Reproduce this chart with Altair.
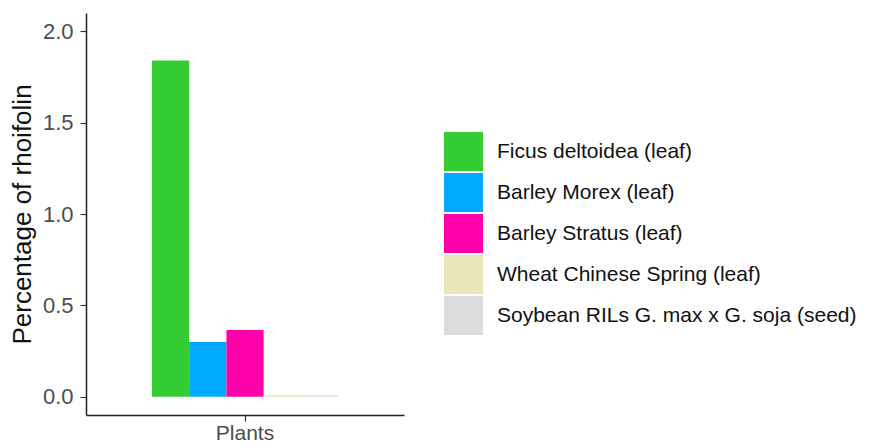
import altair as alt
import pandas as pd

categories = ["Plants"] * 5
series = [
    "Ficus deltoidea (leaf)",
    "Barley Morex (leaf)",
    "Barley Stratus (leaf)",
    "Wheat Chinese Spring (leaf)",
    "Soybean RILs G. max x G. soja (seed)",
]
values = [1.84, 0.30, 0.365, 0.008, 0.008]
colors = ["#33CC33", "#00AAFF", "#FF00AA", "#E8E6B8", "#DCDCDC"]
y_ticks = [0.0, 0.5, 1.0, 1.5, 2.0]

df = pd.DataFrame({"cat": categories, "series": series, "value": values})

FONT = "Liberation Sans"

chart = alt.Chart(df).mark_bar(strokeWidth=0).encode(
    x=alt.X(
        "cat:N",
        title=None,
        scale=alt.Scale(paddingInner=0, paddingOuter=0.355),
        axis=alt.Axis(
            labelAngle=0, labelFontSize=21, labelColor="#4D4D4D", labelFont=FONT,
            labelBaseline="alphabetic",
            domainColor="#222222", domainWidth=1.5, tickColor="#333333",
            tickSize=6, tickWidth=1.2, labelPadding=18, grid=False,
        ),
    ),
    xOffset=alt.XOffset("series:N", sort=series, scale=alt.Scale(paddingInner=0, paddingOuter=0)),
    y=alt.Y(
        "value:Q",
        title="Percentage of rhoifolin",
        scale=alt.Scale(domain=[-0.1, 2.1], zero=False, nice=False),
        axis=alt.Axis(
            values=y_ticks, format=".1f", labelFontSize=22, labelColor="#4D4D4D",
            labelFont=FONT, titleFont=FONT, titleFontSize=26, titleFontWeight="normal",
            titleColor="#111111", titlePadding=7, domainColor="#222222", domainWidth=1.5,
            tickColor="#333333", tickSize=6, tickWidth=1.2, labelPadding=7, grid=False,
        ),
    ),
    y2=alt.datum(0),
    color=alt.Color(
        "series:N", sort=series,
        scale=alt.Scale(domain=series, range=colors),
        legend=alt.Legend(
            title=None, orient="none", legendX=358, legendY=119,
            symbolType="square", symbolSize=1521, symbolStrokeWidth=0,
            symbolOpacity=1, labelFontSize=21, labelFont=FONT, labelColor="#111111",
            labelOffset=14, rowPadding=2, labelLimit=600,
        ),
    ),
).properties(
    width=318, height=402,
    background="white",
    autosize=alt.AutoSizeParams(type="none"),
    padding={"left": 78, "top": 5, "right": 460, "bottom": 25},
).configure_view(stroke=None)

chart.save("out.html", embed_options={"renderer": "svg", "actions": False})
